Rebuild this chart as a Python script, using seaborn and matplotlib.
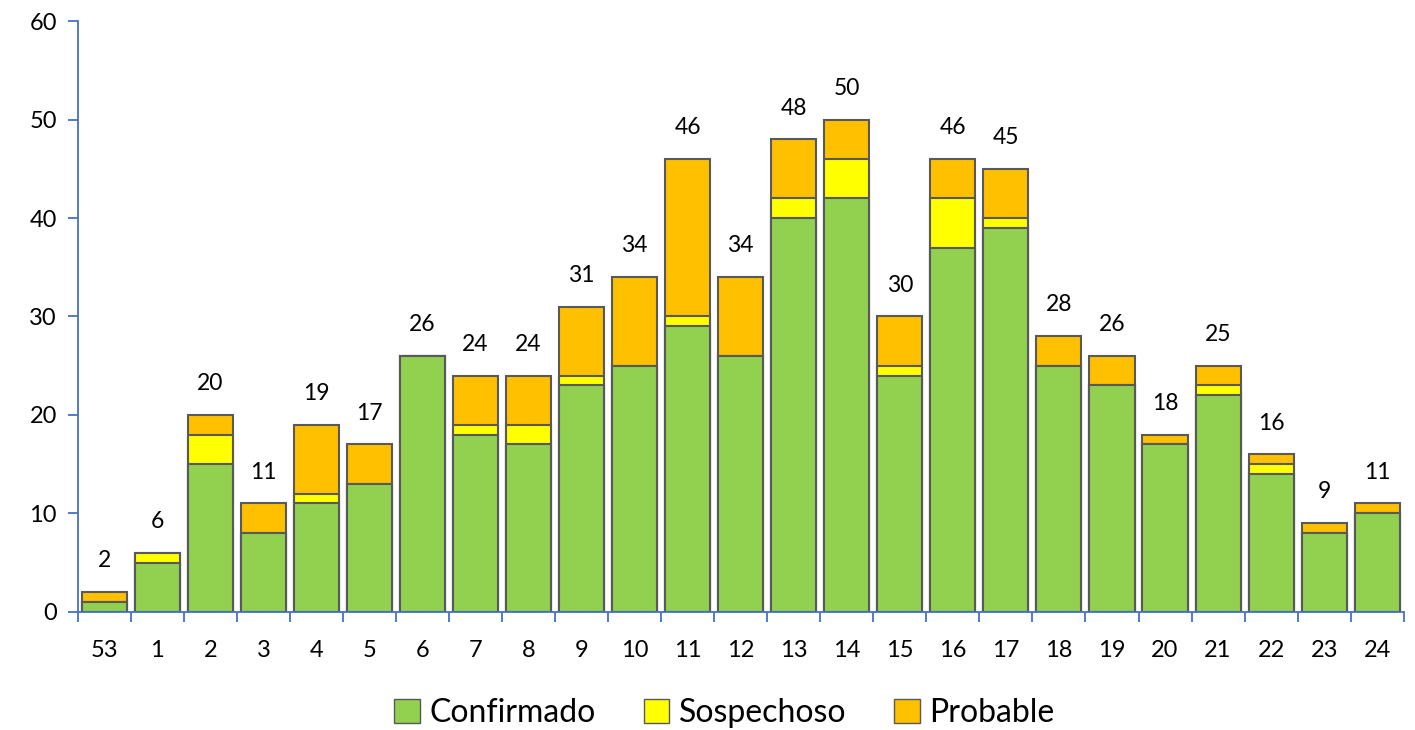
import matplotlib
matplotlib.use("Agg")
import matplotlib.pyplot as plt
import seaborn as sns
import pandas as pd
from matplotlib.patches import Patch
from matplotlib.ticker import FixedLocator

weeks = ["53", "1", "2", "3", "4", "5", "6", "7", "8", "9", "10", "11", "12",
         "13", "14", "15", "16", "17", "18", "19", "20", "21", "22", "23", "24"]
confirmado = [1, 5, 15, 8, 11, 13, 26, 18, 17, 23, 25, 29, 26,
              40, 42, 24, 37, 39, 25, 23, 17, 22, 14, 8, 10]
sospechoso = [0, 1, 3, 0, 1, 0, 0, 1, 2, 1, 0, 1, 0,
              2, 4, 1, 5, 1, 0, 0, 0, 1, 1, 0, 0]
probable = [1, 0, 2, 3, 7, 4, 0, 5, 5, 7, 9, 16, 8,
            6, 4, 5, 4, 5, 3, 3, 1, 2, 1, 1, 1]

df = pd.DataFrame({"semana": weeks, "conf": confirmado,
                   "susp": sospechoso, "prob": probable})
df["conf_susp"] = df["conf"] + df["susp"]
df["total"] = df["conf_susp"] + df["prob"]

sns.set_style("white")
plt.rcParams["font.family"] = ["Lato", "DejaVu Sans"]
plt.rcParams["text.color"] = "black"
plt.rcParams["xtick.labelcolor"] = "black"
plt.rcParams["ytick.labelcolor"] = "black"

green, yellow, orange = "#92D050", "#FFFF00", "#FFC000"
edge = "#595959"
axis_blue = "#4472C4"

fig = plt.figure(figsize=(14.15, 7.3), dpi=100)
ax = fig.add_axes([0.055, 0.162, 0.937, 0.809])

# layered bars: total (probable on top), then conf+susp, then confirmed
for col, color in [("total", orange), ("conf_susp", yellow), ("conf", green)]:
    sns.barplot(data=df, x="semana", y=col, color=color, width=0.85,
                edgecolor=edge, linewidth=1.5, saturation=1, ax=ax, zorder=2)

for i, t in enumerate(df["total"]):
    ax.text(i, t + 2.1, str(t), ha="center", va="bottom", fontsize=16.5)

ax.set_ylim(0, 60)
ax.set_xlim(-0.5, len(weeks) - 0.5)
ax.set_yticks(range(0, 61, 10))
ax.set_xlabel("")
ax.set_ylabel("")

for s in ["top", "right"]:
    ax.spines[s].set_visible(False)
for s in ["left", "bottom"]:
    ax.spines[s].set_color(axis_blue)
    ax.spines[s].set_linewidth(1.3)

ax.tick_params(axis="y", direction="out", length=7, color=axis_blue,
               width=1.3, labelsize=17, left=True, pad=8)
ax.tick_params(axis="x", which="major", length=0, labelsize=17, pad=20)
ax.xaxis.set_minor_locator(FixedLocator([i - 0.5 for i in range(len(weeks) + 1)]))
ax.tick_params(axis="x", which="minor", direction="out", length=7,
               color=axis_blue, width=1.3, bottom=True)

handles = [Patch(facecolor=green, edgecolor=edge, label="Confirmado"),
           Patch(facecolor=yellow, edgecolor=edge, label="Sospechoso"),
           Patch(facecolor=orange, edgecolor=edge, label="Probable")]
fig.legend(handles=handles, loc="lower center", ncol=3, frameon=False,
           fontsize=23, bbox_to_anchor=(0.512, -0.037), handlelength=0.8,
           handleheight=0.8, handletextpad=0.3, columnspacing=1.5)

fig.savefig("out.png", dpi=100)
